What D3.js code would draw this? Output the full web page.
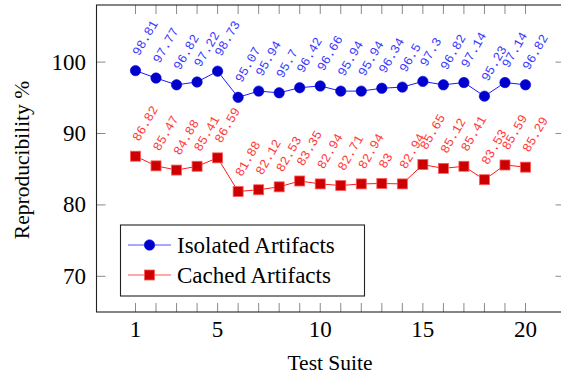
<!DOCTYPE html>
<html>
<head>
<meta charset="utf-8">
<script src="https://cdn.jsdelivr.net/npm/d3@7"></script>
<style>
  body { margin: 0; background: #fff; }
  svg { display: block; }
  .serif { font-family: "Liberation Serif", "Times New Roman", "FreeSerif", serif; }
  .mono { font-family: "Liberation Mono", "Courier New", "DejaVu Sans Mono", monospace; }
</style>
</head>
<body>
<div id="chart"></div>
<script>
// chart data
var suites = d3.range(1, 21);
var isolated = [98.81, 97.77, 96.82, 97.22, 98.73, 95.07, 95.94, 95.7, 96.42, 96.66,
                95.94, 95.94, 96.34, 96.5, 97.3, 96.82, 97.14, 95.23, 97.14, 96.82];
var cached = [86.82, 85.47, 84.88, 85.41, 86.59, 81.88, 82.12, 82.53, 83.35, 82.94,
              82.71, 82.94, 83, 82.94, 85.65, 85.12, 85.41, 83.53, 85.59, 85.29];
var xTickLabels = [1, 5, 10, 15, 20];
var yTickLabels = [70, 80, 90, 100];
var seriesNames = ['Isolated Artifacts', 'Cached Artifacts'];

var width = 561, height = 376;

// plot frame runs off the right edge like the original crop
var x = d3.scaleLinear().domain([-0.9, 21.9]).range([96.5, 564.5]);
var y = d3.scaleLinear().domain([65, 108]).range([312, 5]);

var svg = d3.select('#chart').append('svg')
            .attr('width', width)
            .attr('height', height);

// tick marks on all four sides, pointing inward
var tickCol = '#8a8a8a';
var tickLen = 9;
svg.append('g').selectAll('line').data(suites).enter().append('line')
   .attr('x1', function(d){ return x(d); }).attr('x2', function(d){ return x(d); })
   .attr('y1', y.range()[0]).attr('y2', y.range()[0] - tickLen)
   .attr('stroke', tickCol).attr('stroke-width', 1);
svg.append('g').selectAll('line').data(suites).enter().append('line')
   .attr('x1', function(d){ return x(d); }).attr('x2', function(d){ return x(d); })
   .attr('y1', y.range()[1]).attr('y2', y.range()[1] + tickLen)
   .attr('stroke', tickCol).attr('stroke-width', 1);
svg.append('g').selectAll('line').data(yTickLabels).enter().append('line')
   .attr('x1', x.range()[0]).attr('x2', x.range()[0] + tickLen)
   .attr('y1', function(d){ return y(d); }).attr('y2', function(d){ return y(d); })
   .attr('stroke', tickCol).attr('stroke-width', 1);
svg.append('g').selectAll('line').data(yTickLabels).enter().append('line')
   .attr('x1', x.range()[1]).attr('x2', x.range()[1] - tickLen)
   .attr('y1', function(d){ return y(d); }).attr('y2', function(d){ return y(d); })
   .attr('stroke', tickCol).attr('stroke-width', 1);

// frame
svg.append('rect')
   .attr('x', x.range()[0]).attr('y', y.range()[1])
   .attr('width', x.range()[1] - x.range()[0])
   .attr('height', y.range()[0] - y.range()[1])
   .attr('fill', 'none').attr('stroke', '#222').attr('stroke-width', 1.1);

// tick labels
svg.append('g').selectAll('text').data(xTickLabels).enter().append('text')
   .attr('class', 'serif')
   .attr('x', function(d){ return x(d); })
   .attr('y', 337)
   .attr('text-anchor', 'middle')
   .attr('font-size', 23)
   .text(function(d){ return d; });
svg.append('g').selectAll('text').data(yTickLabels).enter().append('text')
   .attr('class', 'serif')
   .attr('x', 86)
   .attr('y', function(d){ return y(d); })
   .attr('dy', '0.33em')
   .attr('text-anchor', 'end')
   .attr('font-size', 23)
   .text(function(d){ return d; });

// axis titles
svg.append('text')
   .attr('class', 'serif')
   .attr('x', 330).attr('y', 370)
   .attr('text-anchor', 'middle')
   .attr('font-size', 21.5)
   .text('Test Suite');
svg.append('text')
   .attr('class', 'serif')
   .attr('transform', 'translate(29,160) rotate(-90)')
   .attr('text-anchor', 'middle')
   .attr('font-size', 21.5)
   .text('Reproducibility %');

var series = [
  { name: seriesNames[0], values: isolated, line: '#1a1aff', mark: '#0000cc', markStroke: '#0000e0', text: '#3a3aff', shape: 'circle' },
  { name: seriesNames[1], values: cached, line: '#ff1a1a', mark: '#cc0000', markStroke: '#ff5a5a', text: '#ff3a3a', shape: 'square' }
];

var line = d3.line()
  .x(function(d, i){ return x(suites[i]); })
  .y(function(d){ return y(d); });

var drawMark = function(g, s, cx, cy){
  if(s.shape === 'circle'){
    g.append('circle').attr('cx', cx).attr('cy', cy).attr('r', 5.2)
     .attr('fill', s.mark).attr('stroke', s.markStroke).attr('stroke-width', 0.6);
  } else {
    g.append('rect').attr('x', cx - 5).attr('y', cy - 5).attr('width', 10).attr('height', 10)
     .attr('fill', s.mark).attr('stroke', s.markStroke).attr('stroke-width', 0.8);
  }
};

series.forEach(function(s){
  var g = svg.append('g');
  g.append('path').datum(s.values)
   .attr('d', line)
   .attr('fill', 'none').attr('stroke', s.line).attr('stroke-width', 1);
  s.values.forEach(function(v, i){
    drawMark(g, s, x(suites[i]), y(v));
  });
  // rotated value labels
  g.selectAll('text.val').data(s.values).enter().append('text')
   .attr('class', 'val mono')
   .attr('transform', function(d, i){
     return 'translate(' + x(suites[i]) + ',' + y(d) + ') rotate(-60)';
   })
   .attr('x', 14).attr('y', -4)
   .attr('font-size', 12.8)
   .attr('fill', s.text)
   .text(function(d){ return String(d); });
});

// legend
var lg = svg.append('g');
lg.append('rect')
  .attr('x', 120.5).attr('y', 225).attr('width', 244).attr('height', 71)
  .attr('fill', '#fff').attr('stroke', '#222').attr('stroke-width', 1.1);
series.forEach(function(s, i){
  var ly = 245 + i * 30;
  lg.append('line').attr('x1', 128).attr('x2', 171).attr('y1', ly).attr('y2', ly)
    .attr('stroke', s.line).attr('stroke-opacity', 0.75).attr('stroke-width', 1);
  drawMark(lg, s, 149.5, ly);
  lg.append('text')
    .attr('class', 'serif')
    .attr('x', 177).attr('y', ly).attr('dy', '0.33em')
    .attr('font-size', 23)
    .text(s.name);
});
</script>
</body>
</html>
